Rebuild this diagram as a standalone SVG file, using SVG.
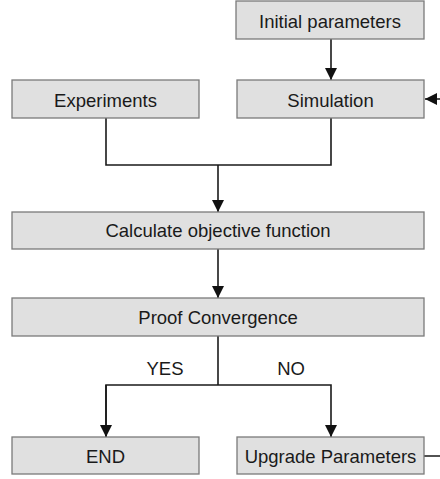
<svg xmlns="http://www.w3.org/2000/svg" width="440" height="479" viewBox="0 0 440 479">
<defs>
<style>
.box{fill:#e0e0e0;stroke:#7a7a7a;stroke-width:1.3}
.t{font-family:"Liberation Sans",Arial,sans-serif;font-size:18.5px;fill:#1a1a1a;text-anchor:middle}
.c{fill:none;stroke:#1a1a1a;stroke-width:1.6}
</style>
<marker id="ah" viewBox="0 0 12 12" refX="12" refY="6" markerWidth="12" markerHeight="12" markerUnits="userSpaceOnUse" orient="auto">
<path d="M0,0 L12,6 L0,12 Z" fill="#111"/>
</marker>
</defs>
<rect width="440" height="479" fill="#ffffff"/>
<g id="connectors">
<path class="c" d="M331,39 V80" marker-end="url(#ah)"/>
<path class="c" d="M106,118 V165 H331 V118"/>
<path class="c" d="M218,165 V212" marker-end="url(#ah)"/>
<path class="c" d="M218,249 V298" marker-end="url(#ah)"/>
<path class="c" d="M218,336 V385"/>
<path class="c" d="M106,437 V385 H331 V437" marker-end="url(#ah)"/>
<path class="c" d="M106,385 V437" marker-end="url(#ah)"/>
<path class="c" d="M424,456 H452 V99 H425" marker-end="url(#ah)"/>
<text class="t" x="165" y="375">YES</text>
<text class="t" x="291" y="375">NO</text>
</g>
<g id="initial"><rect class="box" x="236" y="1" width="188" height="38"/><text class="t" x="330" y="27.5">Initial parameters</text></g>
<g id="experiments"><rect class="box" x="12" y="80" width="187" height="38"/><text class="t" x="105.5" y="106.5">Experiments</text></g>
<g id="simulation"><rect class="box" x="237" y="80" width="187" height="38"/><text class="t" x="330.5" y="106.5">Simulation</text></g>
<g id="calculate"><rect class="box" x="12" y="212" width="412" height="37"/><text class="t" x="218" y="237">Calculate objective function</text></g>
<g id="proof"><rect class="box" x="12" y="298" width="412" height="38"/><text class="t" x="218" y="324">Proof Convergence</text></g>
<g id="end"><rect class="box" x="12" y="437" width="187" height="37"/><text class="t" x="105.5" y="462.5">END</text></g>
<g id="upgrade"><rect class="box" x="237" y="437" width="187" height="37"/><text class="t" x="330.5" y="462.5">Upgrade Parameters</text></g>
</svg>
